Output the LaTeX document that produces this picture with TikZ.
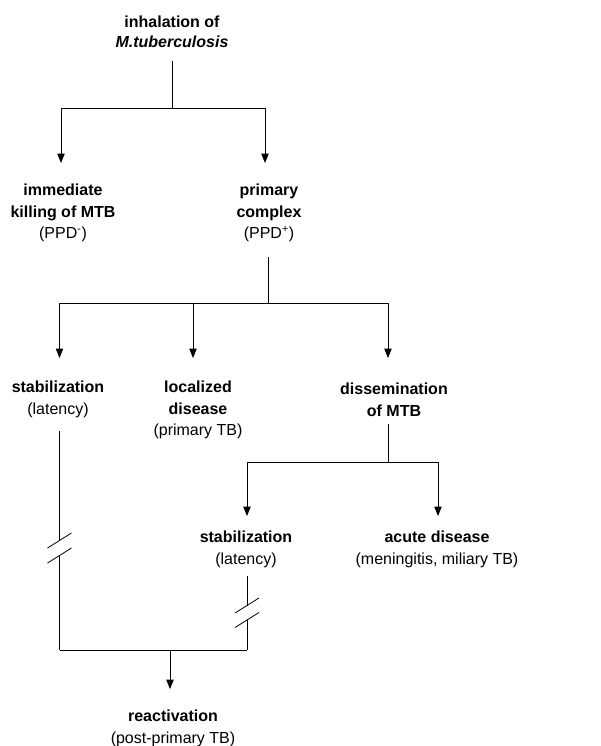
\documentclass[tikz,border=0pt]{standalone}
\usepackage{fontspec}
\setmainfont{Liberation Sans}
\usetikzlibrary{arrows.meta}
\begin{document}
\begin{tikzpicture}[x=0.75pt,y=-0.75pt,
  lbl/.style={anchor=north, inner sep=0pt, align=center, font=\fontsize{12}{16}\selectfont},
  ln/.style={line width=0.6pt},
  arr/.style={ln, -{Triangle[width=5.5pt,length=7pt]}},
]
\useasboundingbox (0,0) rectangle (600,746);

% nodes
\node[lbl, font=\fontsize{12}{15}\selectfont] (inh) at (172,16) {\textbf{inhalation of}\\\textbf{\textit{M.tuberculosis}}};
\node[lbl] (imm) at (63,184) {\textbf{immediate}\\\textbf{killing of MTB}\\(PPD\textsuperscript{-})};
\node[lbl] (prim) at (269,184) {\textbf{primary}\\\textbf{complex}\\(PPD\textsuperscript{+})};
\node[lbl] (stab1) at (58,381) {\textbf{stabilization}\\(latency)};
\node[lbl] (loc) at (198,381) {\textbf{localized}\\\textbf{disease}\\(primary TB)};
\node[lbl] (diss) at (394,383) {\textbf{dissemination}\\\textbf{of MTB}};
\node[lbl] (stab2) at (246,531) {\textbf{stabilization}\\(latency)};
\node[lbl] (acute) at (437,531) {\textbf{acute disease}\\(meningitis, miliary TB)};
\node[lbl] (react) at (173,710) {\textbf{reactivation}\\(post-primary TB)};

% junction coordinates
\coordinate (b1) at (172,108);
\coordinate (b1L) at (61,108);
\coordinate (b1R) at (265,108);
\coordinate (b2) at (268,303);
\coordinate (b2L) at (59.5,303);
\coordinate (b2M) at (193,303);
\coordinate (b2R) at (388,303);
\coordinate (b3) at (388,462);
\coordinate (b3L) at (247,462);
\coordinate (b3R) at (438,462);
\coordinate (k1) at (59.5,540.5);
\coordinate (k2) at (59.5,555.5);
\coordinate (k3) at (247,605.5);
\coordinate (k4) at (247,620);
\coordinate (b4L) at (59.5,650);
\coordinate (b4R) at (247,650);
\coordinate (b4) at (170,650);

% level 1
\draw[ln, shorten <=9.5pt] (inh.south) -- (b1);
\draw[ln] (b1L) -- (b1R);
\draw[arr, shorten >=15.75pt] (b1L) -- (b1L |- imm.north);
\draw[arr, shorten >=15.75pt] (b1R) -- (b1R |- prim.north);

% level 2
\draw[ln, shorten <=11.5pt] (b2 |- prim.south) -- (b2);
\draw[ln] (b2L) -- (b2R);
\draw[arr, shorten >=17.25pt] (b2L) -- (b2L |- stab1.north);
\draw[arr, shorten >=17.25pt] (b2M) -- (b2M |- loc.north);
\draw[arr, shorten >=18.75pt] (b2R) -- (b2R |- diss.north);

% level 3
\draw[ln, shorten <=5.25pt] (b3 |- diss.south) -- (b3);
\draw[ln] (b3L) -- (b3R);
\draw[arr, shorten >=11.25pt] (b3L) -- (b3L |- stab2.north);
\draw[arr, shorten >=11.25pt] (b3R) -- (b3R |- acute.north);

% latency lines with breaks
\draw[ln, shorten <=9.75pt] (k1 |- stab1.south) -- (k1);
\draw[ln] (k1) ++(-12,7.5) -- ++(24,-15);
\draw[ln] (k2) ++(-12,7.5) -- ++(24,-15);
\draw[ln] (k2) -- (b4L);

\draw[ln, shorten <=6pt] (k3 |- stab2.south) -- (k3);
\draw[ln] (k3) ++(-12,7.5) -- ++(24,-15);
\draw[ln] (k4) ++(-12,7.5) -- ++(24,-15);
\draw[ln] (k4) -- (b4R);

% reactivation
\draw[ln] (b4L) -- (b4R);
\draw[arr, shorten >=15.75pt] (b4) -- (b4 |- react.north);
\end{tikzpicture}
\end{document}
